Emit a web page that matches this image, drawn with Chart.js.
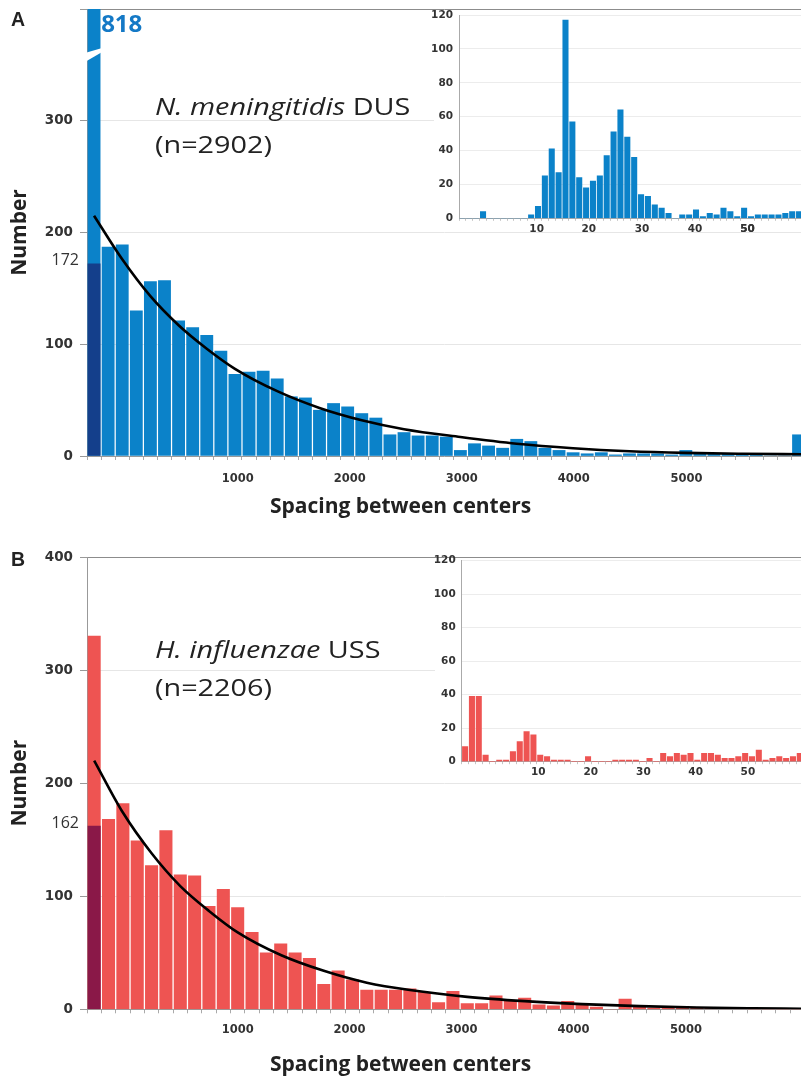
<!DOCTYPE html>
<html>
<head>
<meta charset="utf-8">
<script src="https://cdn.jsdelivr.net/npm/chart.js@4.4.1/dist/chart.umd.min.js"></script>
<style>
  html, body { margin: 0; padding: 0; background: #fff; overflow: hidden; }
  body { position: relative; width: 801px; height: 1079px; }
  canvas { position: absolute; }
  .letter { position: absolute; font: bold 19.5px "Liberation Sans", Arial, sans-serif; color: #222; line-height: 19.5px; }
  .species { position: absolute; left: 155px; font: 24px "Open Sans", sans-serif; color: #222; line-height: 38px;
             white-space: nowrap; transform: scaleX(1.2); transform-origin: 0 0; }
</style>
</head>
<body>
<canvas id="mainA" width="801" height="526" style="left:0;top:0"></canvas>
<canvas id="insetA" width="375" height="236" style="left:426px;top:4px"></canvas>
<div class="letter" style="left:11px;top:10px">A</div>
<div class="species" style="top:87px"><i>N. meningitidis</i> DUS<br>(n=2902)</div>

<canvas id="mainB" width="801" height="539" style="left:0;top:540px"></canvas>
<canvas id="insetB" width="374" height="232" style="left:427px;top:552px"></canvas>
<div class="letter" style="left:11px;top:550px">B</div>
<div class="species" style="top:630px"><i>H. influenzae</i> USS<br>(n=2206)</div>

<script>
// ---- data -------------------------------------------------------------
// counts per spacing bin, first bin is the one broken out in the inset
const binsA = [818, 187, 189, 130, 156, 157, 121, 115, 108, 94,
               73, 75, 76, 69, 53, 52, 41, 47, 44, 38,
               34, 19, 21, 18, 18, 17, 5, 11, 9, 7,
               15, 13, 7, 5, 3, 2, 3, 1, 2, 2,
               2, 1, 5, 2, 2, 2, 1, 1, 0, 0, 19];
const firstDarkA = 172;
const binsB = [330, 168, 182, 149, 127, 158, 119, 118, 91, 106,
               90, 68, 50, 58, 50, 45, 22, 34, 26, 17,
               17, 17, 18, 15, 6, 16, 5, 5, 12, 8,
               10, 4, 3, 7, 4, 2, 0, 9, 2, 1,
               2, 1, 1, 1, 1, 1, 0, 0, 0, 0];
const firstDarkB = 162;

// exponential fit, sampled along the bin axis
const fitXA = [0, 2, 4, 6, 8, 10, 13, 16, 19, 22, 26, 30, 34, 38, 42, 46, 50.2];
const fitYA = [215, 176, 143, 117, 96, 78, 58, 43, 32, 24, 17, 11, 7, 4.3, 2.8, 2, 1.5];
const fitXB = [0, 2, 4, 6, 8, 10, 13, 16, 19, 22, 26, 30, 34, 38, 42, 46, 49.3];
const fitYB = [220, 174, 138, 109, 87, 68, 48, 34, 23.5, 17, 11, 7.2, 4.6, 2.8, 1.6, 0.9, 0.5];

// short-spacing detail of the first bin
const insetA = [0, 0, 0, 4, 0, 0, 0, 0, 0, 0,
                2, 7, 25, 41, 27, 117, 57, 24, 18, 22,
                25, 37, 51, 64, 48, 36, 14, 13, 8, 6,
                3, 0, 2, 2, 5, 1, 3, 2, 6, 4,
                1, 6, 1, 2, 2, 2, 2, 3, 4, 4];
const insetB = [9, 39, 39, 4, 0, 1, 1, 6, 12, 18,
                16, 4, 3, 1, 1, 1, 0, 0, 3, 0,
                0, 0, 1, 1, 1, 1, 0, 2, 0, 5,
                3, 5, 4, 5, 1, 5, 5, 4, 2, 2,
                3, 5, 3, 7, 1, 2, 3, 2, 3, 5];

// tick labels and where they sit on the bin axis
const mainTickLabels = ['1000', '2000', '3000', '4000', '5000'];
const mainTickPosA = [10.2, 18.15, 26.1, 34.05, 42.05];
const mainTickPosB = [10.0, 17.8, 25.6, 33.4, 41.25];
const insetTickLabels = ['10', '20', '30', '40', '50'];
const insetTickPosA = [10.8, 18.4, 26.15, 33.85, 41.5];
const insetTickPosB = [10.7, 18.4, 26.1, 33.75, 41.4];

// ---- styling ----------------------------------------------------------
const BLUE = '#0b82c9', BLUE_DARK = '#143f8b';
const RED = '#ee5452', RED_DARK = '#8a1848';
const TICK_FONT = "'DejaVu Sans', Verdana, sans-serif";
const TEXT_FONT = "'Open Sans', sans-serif";

Chart.defaults.animation = false;
Chart.defaults.plugins.legend.display = false;
Chart.defaults.plugins.tooltip.enabled = false;

const toPoints = (xs, ys) => xs.map((x, i) => ({ x, y: ys[i] }));
const binPoints = vals => vals.map((v, i) => ({ x: i, y: v }));

// boundary tick marks between every bin plus the labelled positions
function binAxisTicks(tickPos, maxX) {
  return axis => {
    const ticks = [];
    for (let b = -0.5; b <= maxX; b += 1) ticks.push({ value: b });
    tickPos.forEach(v => ticks.push({ value: v }));
    ticks.sort((a, b) => a.value - b.value);
    axis.ticks = ticks;
  };
}

// first bin: broken top, total printed beside it, dark part labelled at the axis
const firstBin = {
  id: 'firstBin',
  afterDatasetsDraw(chart, args, opts) {
    const { ctx, chartArea, scales: { y } } = chart;
    const bar = chart.getDatasetMeta(2).data[0];
    const half = bar.width / 2;
    ctx.save();
    if (opts.breakAt) {
      const yb = y.getPixelForValue(opts.breakAt);
      ctx.fillStyle = '#fff';
      ctx.beginPath();
      ctx.moveTo(bar.x - half - 3, yb + 5);
      ctx.lineTo(bar.x + half + 2, yb);
      ctx.lineTo(bar.x + half + 2, yb + 4);
      ctx.lineTo(bar.x - half - 3, yb + 14);
      ctx.closePath();
      ctx.fill();
      ctx.fillStyle = opts.totalColor;
      ctx.font = 'bold 24px ' + TEXT_FONT;
      ctx.textAlign = 'left';
      ctx.textBaseline = 'middle';
      ctx.fillText(String(opts.total), bar.x + half + 1, chartArea.top + 16);
    }
    ctx.fillStyle = '#333';
    ctx.font = '16px ' + TEXT_FONT;
    ctx.textAlign = 'right';
    ctx.textBaseline = 'middle';
    ctx.fillText(String(opts.dark), chartArea.left - 8, y.getPixelForValue(opts.dark) - 3);
    ctx.restore();
  }
};

// white panel behind the inset so the main grid does not show through
const insetBackground = {
  id: 'insetBackground',
  beforeDraw(chart, args, opts) {
    const { ctx, width } = chart;
    ctx.save();
    ctx.fillStyle = '#fff';
    ctx.fillRect(opts.left, opts.top, width - opts.left, opts.bottom - opts.top);
    ctx.restore();
  }
};

function mainChart(id, s) {
  const maxX = s.maxX;
  return new Chart(document.getElementById(id), {
    type: 'bar',
    data: {
      datasets: [
        { type: 'line', data: toPoints(s.fitX, s.fitY), borderColor: '#000', borderWidth: 2.6,
          pointRadius: 0, cubicInterpolationMode: 'monotone', order: 0 },
        { data: [{ x: 0, y: s.dark }], backgroundColor: s.darkColor, grouped: false,
          barThickness: s.barWidth, order: 1 },
        { data: binPoints(s.bins), backgroundColor: s.color, grouped: false,
          barThickness: s.barWidth, order: 2 }
      ]
    },
    options: {
      responsive: false,
      layout: { padding: { top: s.padTop, left: 0, right: 0, bottom: 0 } },
      scales: {
        x: {
          type: 'linear', min: -0.5, max: maxX, offset: false,
          afterBuildTicks: binAxisTicks(s.tickPos, maxX),
          afterFit: axis => { axis.height = s.xHeight; axis.paddingLeft = 0; axis.paddingRight = 0; },
          ticks: {
            autoSkip: false, maxRotation: 0, padding: s.labelPad, color: '#333',
            font: { family: TICK_FONT, size: 11.5, weight: 'bold' },
            callback: v => { const k = s.tickPos.indexOf(v); return k < 0 ? '' : mainTickLabels[k]; }
          },
          grid: {
            offset: false, drawOnChartArea: false, tickLength: 4,
            tickColor: c => (c.tick && s.tickPos.includes(c.tick.value)) ? 'rgba(0,0,0,0)' : '#aaa'
          },
          border: { color: '#999' }
        },
        y: {
          min: 0, max: 400,
          afterFit: axis => { axis.width = 87; axis.paddingTop = 0; axis.paddingBottom = 0; },
          ticks: {
            stepSize: 100, padding: 7, color: '#333',
            font: { family: TICK_FONT, size: 13.5, weight: 'bold' },
            callback: v => (s.hideTop && v === 400) ? '' : v
          },
          grid: {
            color: c => (c.tick && c.tick.value === 400) ? '#8c8c8c' : '#e6e6e6',
            tickLength: 7, tickColor: '#999'
          },
          border: { color: '#999' },
          title: { display: true, text: 'Number', color: '#222',
                   font: { family: TEXT_FONT, size: 21, weight: 'bold' }, padding: { top: 7, bottom: 0 } }
        }
      },
      plugins: {
        title: { display: true, position: 'bottom', text: 'Spacing between centers', color: '#222',
                 font: { family: TEXT_FONT, size: 21, weight: 'bold', lineHeight: 1.2 },
                 padding: { top: 0, bottom: s.titlePad } },
        firstBin: { total: s.bins[0], dark: s.dark, breakAt: s.breakAt, totalColor: s.totalColor }
      }
    },
    plugins: [firstBin]
  });
}

function insetChart(id, s) {
  const maxX = s.maxX;
  return new Chart(document.getElementById(id), {
    type: 'bar',
    data: {
      datasets: [{ data: binPoints(s.bins), backgroundColor: s.color, barThickness: s.barWidth, grouped: false }]
    },
    options: {
      responsive: false,
      layout: { padding: { top: s.padTop, left: 0, right: 0, bottom: 0 } },
      scales: {
        x: {
          type: 'linear', min: -0.5, max: maxX, offset: false,
          afterBuildTicks: binAxisTicks(s.tickPos, maxX),
          afterFit: axis => { axis.height = s.xHeight; axis.paddingLeft = 0; axis.paddingRight = 0; },
          ticks: {
            autoSkip: false, maxRotation: 0, padding: s.labelPad, color: '#333',
            font: { family: TICK_FONT, size: 10.5, weight: 'bold' },
            callback: v => { const k = s.tickPos.indexOf(v); return k < 0 ? '' : insetTickLabels[k]; }
          },
          grid: {
            offset: false, drawOnChartArea: false, tickLength: 2.5,
            tickColor: c => (c.tick && s.tickPos.includes(c.tick.value)) ? 'rgba(0,0,0,0)' : '#c4c4c4'
          },
          border: { color: '#aaa' }
        },
        y: {
          min: 0, max: 120,
          afterFit: axis => { axis.width = s.yWidth; axis.paddingTop = 0; axis.paddingBottom = 0; },
          ticks: { stepSize: 20, padding: 6, color: '#333', font: { family: TICK_FONT, size: 10.5, weight: 'bold' } },
          grid: { color: '#ececec', drawTicks: false },
          border: { color: '#aaa' }
        }
      },
      plugins: { insetBackground: { left: s.bgLeft, top: s.bgTop, bottom: s.bgBottom } }
    },
    plugins: [insetBackground]
  });
}

mainChart('mainA', {
  bins: binsA, dark: firstDarkA, fitX: fitXA, fitY: fitYA, tickPos: mainTickPosA,
  color: BLUE, darkColor: BLUE_DARK, totalColor: '#1479c6',
  maxX: (801 - 87) / 14.09 - 0.5, barWidth: 12.2,
  padTop: 9, xHeight: 38.9, labelPad: 12, titlePad: 5.9, hideTop: true, breakAt: 365
});
mainChart('mainB', {
  bins: binsB, dark: firstDarkB, fitX: fitXB, fitY: fitYB, tickPos: mainTickPosB,
  color: RED, darkColor: RED_DARK,
  maxX: (801 - 87) / 14.35 - 0.5, barWidth: 12.4,
  padTop: 17, xHeight: 43.1, labelPad: 10, titlePad: 1.4, hideTop: false
});
insetChart('insetA', {
  bins: insetA, tickPos: insetTickPosA, color: BLUE, barWidth: 5.4,
  maxX: (801 - 459) / 6.87 - 0.5, padTop: 11, yWidth: 33, xHeight: 21.7, labelPad: 2,
  bgLeft: 8, bgTop: 6, bgBottom: 227
});
insetChart('insetB', {
  bins: insetB, tickPos: insetTickPosB, color: RED, barWidth: 5.4,
  maxX: (801 - 461.7) / 6.83 - 0.5, padTop: 8.7, yWidth: 34.7, xHeight: 22.3, labelPad: 2,
  bgLeft: 8, bgTop: 6, bgBottom: 228
});
</script>
</body>
</html>
